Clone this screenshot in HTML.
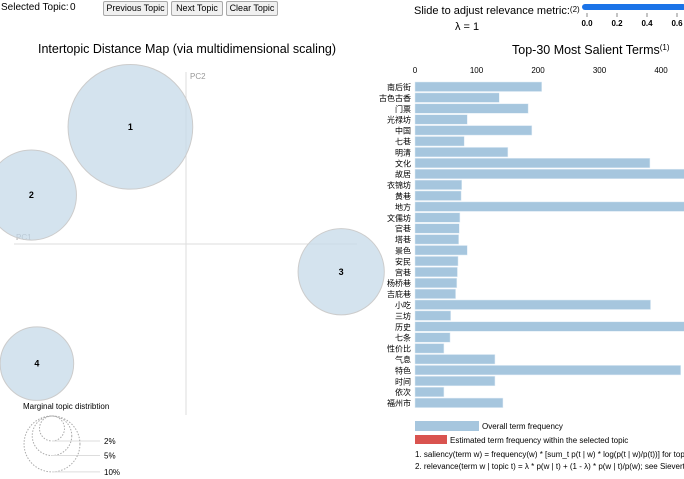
<!DOCTYPE html>
<html><head><meta charset="utf-8"><style>
body{margin:0;width:684px;height:479px;overflow:hidden;background:#fff;font-family:"Liberation Sans","Noto Sans CJK SC",sans-serif;}
.btn{position:absolute;top:1px;height:13px;border:1px solid #aaa;background:#f0f0f0;font-size:9px;line-height:13px;text-align:center;border-radius:2px;box-sizing:content-box;white-space:nowrap;overflow:hidden;}
</style></head><body>
<div style="position:absolute;left:1px;top:2px;font-size:10px;">Selected Topic:</div>
<div style="position:absolute;left:70px;top:2px;width:30px;font-size:10px;">0</div>
<div class="btn" style="left:103px;width:63px;">Previous Topic</div>
<div class="btn" style="left:171px;width:50px;">Next Topic</div>
<div class="btn" style="left:226px;width:50px;">Clear Topic</div>
<svg id="svg" width="684" height="479" style="position:absolute;left:0;top:0" font-family="Liberation Sans, Noto Sans CJK SC, sans-serif">
<text x="414" y="14" font-size="11">Slide to adjust relevance metric:<tspan font-size="8" dy="-2">(2)</tspan></text>
<text x="455" y="30" font-size="11">λ = 1</text>
<rect x="582" y="4" width="104" height="6" rx="3" fill="#1a73e8"/>
<g id="slider-ticks" font-size="8" font-weight="bold"></g>
<text x="187" y="53" font-size="12.5" text-anchor="middle">Intertopic Distance Map (via multidimensional scaling)</text>
<text x="512" y="54" font-size="12.5">Top-30 Most Salient Terms<tspan font-size="8" dy="-4">(1)</tspan></text>
<line x1="186" y1="72" x2="186" y2="415" stroke="#ddd"/>
<line x1="14" y1="244" x2="357" y2="244" stroke="#ddd"/>
<text x="190" y="79" font-size="8" fill="#999">PC2</text>
<text x="16" y="240" font-size="8" fill="#999">PC1</text>
<g id="topics"></g>
<text x="23" y="409" font-size="8">Marginal topic distribtion</text>
<g id="legend-circles"></g>
<g id="bars"></g>
<rect x="415" y="421" width="64" height="10" fill="#a6c6de"/>
<text x="482" y="429" font-size="8">Overall term frequency</text>
<rect x="415" y="435" width="32" height="9" fill="#d9534f"/>
<text x="450" y="443" font-size="8">Estimated term frequency within the selected topic</text>
<text x="415" y="457" font-size="8">1. saliency(term w) = frequency(w) * [sum_t p(t | w) * log(p(t | w)/p(t))] for topics t; see Chuang et. al (2012)</text>
<text x="415" y="469" font-size="8">2. relevance(term w | topic t) = λ * p(w | t) + (1 - λ) * p(w | t)/p(w); see Sievert &amp; Shirley (2014)</text>
</svg>
<script>
const terms=["南后街","古色古香","门票","光禄坊","中国","七巷","明清","文化","故居","衣锦坊","黄巷","地方","文儒坊","官巷","塔巷","景色","安民","宫巷","杨桥巷","吉庇巷","小吃","三坊","历史","七条","性价比","气息","特色","时间","依次","福州市"];
const freqs=[206,137,184,85,190,80,151,382,440,76,75,440,73,72,71,85,70,69,68,66,383,58,440,57,47,130,432,130,47,143];
const xTicks=[0,100,200,300,400];
const topicIds=[1,2,3,4];
const topicX=[-0.091,-0.253,0.254,-0.244];
const topicY=[0.194,0.081,-0.046,-0.198];
const topicShare=[23,12,11,8];
const sliderTicks=[0,0.2,0.4,0.6];
const legendShares=[2,5,10];
const NS="http://www.w3.org/2000/svg";
function mk(p,t,a){const e=document.createElementNS(NS,t);for(const k in a)e.setAttribute(k,a[k]);p.appendChild(e);return e;}
const bx=v=>415+v*0.615, by=i=>82+i*10.9;
const bars=document.getElementById('bars');
xTicks.forEach(t=>{const e=mk(bars,'text',{x:bx(t),y:73,'font-size':8,'text-anchor':'middle'});e.textContent=t;

});
terms.forEach((t,i)=>{const r=mk(bars,'rect',{x:bx(0),y:by(i),width:bx(freqs[i])-bx(0),height:9.5,fill:'#a6c6de',stroke:'#e0ecf5','stroke-width':0.5});


const l=mk(bars,'text',{x:411,y:by(i)+8,'font-size':8,'text-anchor':'end'});l.textContent=t;

});
const sx=v=>186+v*611, sy=v=>244-v*604, rr=s=>Math.sqrt(s)*13;
const tg=document.getElementById('topics');
topicIds.forEach((id,i)=>{const c=mk(tg,'circle',{cx:sx(topicX[i]),cy:sy(topicY[i]),r:rr(topicShare[i]),fill:'#c6d9e8','fill-opacity':0.75,stroke:'#ccc'});


const t=mk(tg,'text',{x:sx(topicX[i]),y:sy(topicY[i])+3,'font-size':9,'font-weight':'bold','text-anchor':'middle'});t.textContent=id;

});
const lg=document.getElementById('legend-circles');
legendShares.forEach((s,i)=>{const r=rr(s)*0.68;const cy=416+r;
const c=mk(lg,'circle',{cx:52,cy:cy,r:r,fill:'none',stroke:'#aaa','stroke-dasharray':'1.5,1.5'});


const l=mk(lg,'line',{x1:52,y1:416+2*r,x2:100,y2:416+2*r,stroke:'#ddd'});


const t=mk(lg,'text',{x:104,y:416+2*r+3,'font-size':8});t.textContent=s+'%';

});
const st=document.getElementById('slider-ticks');
sliderTicks.forEach(v=>{const x=587+v*150;
const l=mk(st,'line',{x1:x,y1:13,x2:x,y2:17,stroke:'#888'});


const t=mk(st,'text',{x:x,y:26,'text-anchor':'middle'});t.textContent=v.toFixed(1);

});
</script>
</body></html>
